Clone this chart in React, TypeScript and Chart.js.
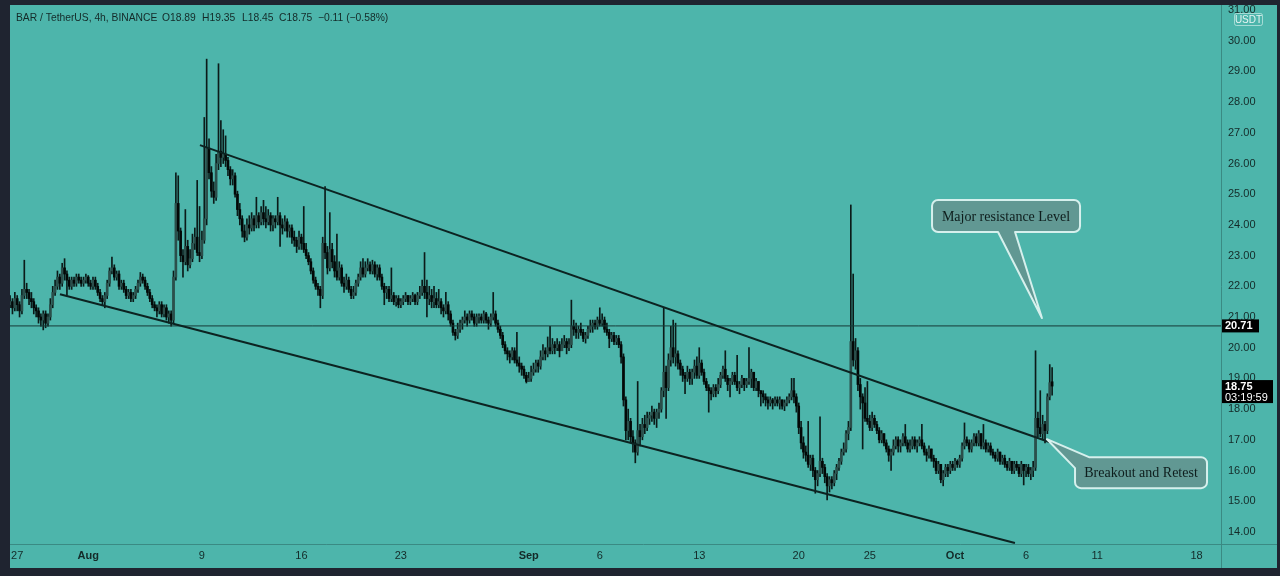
import React, { useEffect, useRef } from 'react';
import { Chart, registerables } from 'chart.js';

Chart.register(...registerables);

// ---------------- data ----------------
const SYMBOL = 'BAR / TetherUS, 4h, BINANCE';
const FIRST_BAR_OPEN_TIME = '2021-07-26T12:00:00Z';
const BAR_HOURS = 4;
const FIRST_OPEN = 21.4;
const LAST_BAR_OPEN = 18.89;

// 4h candles as [high, low, close] triples; each open is the previous close
const week01 = [
  21.7,21.3,21.5, 21.6,21.1,21.3, 21.8,21.2,21.6, 21.7,21.2,21.4, 21.5,21.0,21.2, 21.9,21.1,21.7,
  22.85,21.6,21.9, 22.1,21.6,21.8, 21.9,21.4,21.6, 21.8,21.3,21.5, 21.6,21.1,21.3, 21.4,21.0,21.2,
  21.3,20.8,21.0, 21.1,20.7,20.9, 21.2,20.58,21.1, 21.2,20.65,20.8, 21.1,20.7,21.0, 21.6,20.9,21.4,
  22.0,21.3,21.8, 22.2,21.7,22.0, 22.5,21.9,22.3, 22.4,21.9,22.1, 22.75,22.0,22.6, 22.9,22.2,22.4,
  22.5,21.7,22.2, 22.3,21.9,22.0, 22.3,21.9,22.2, 22.3,22.0,22.1, 22.4,22.0,22.3, 22.4,22.1,22.2,
  22.3,22.0,22.1, 22.3,22.0,22.2, 22.4,22.1,22.3, 22.35,22.0,22.1, 22.2,21.9,22.0, 22.3,21.9,22.2,
  22.3,21.9,22.0, 22.1,21.7,21.8, 21.9,21.5,21.6, 21.7,21.4,21.5, 21.8,21.3,21.7, 22.2,21.6,22.1,
];
const week02 = [
  22.6,22.0,22.5, 22.95,22.4,22.6, 22.7,22.2,22.3, 22.5,22.2,22.4, 22.5,21.9,22.0, 22.2,21.9,22.1,
  22.2,21.8,21.9, 22.0,21.6,21.7, 21.9,21.6,21.8, 21.9,21.5,21.6, 21.8,21.5,21.7, 22.0,21.6,21.9,
  22.2,21.8,22.1, 22.45,22.0,22.3, 22.4,22.1,22.2, 22.3,21.9,22.0, 22.1,21.7,21.8, 21.9,21.5,21.6,
  21.7,21.3,21.4, 21.5,21.2,21.3, 21.4,21.0,21.2, 21.5,21.1,21.4, 21.5,21.0,21.1, 21.4,21.0,21.3,
  21.4,20.9,21.0, 21.2,20.8,21.1, 21.2,20.7,20.9, 22.5,20.8,22.3, 25.7,22.2,24.7, 25.6,23.5,23.8,
  23.9,22.8,23.0, 23.2,22.3,22.8, 24.5,22.7,23.3, 23.5,22.5,22.7, 23.2,22.6,22.9, 23.7,22.8,23.4,
  23.9,23.2,23.6, 25.45,23.0,23.1, 24.6,22.8,23.0, 23.8,22.9,23.5, 27.5,23.4,24.2, 29.4,24.0,26.5,
];
const week03 = [
  26.8,25.5,25.7, 25.9,24.9,25.1, 25.4,24.7,24.9, 26.3,24.8,26.0, 29.25,25.8,26.4, 27.4,25.9,26.2,
  27.1,26.0,26.3, 26.9,25.9,26.1, 26.2,25.6,25.8, 25.9,25.3,25.5, 25.8,25.3,25.6, 25.7,24.9,25.0,
  25.1,24.3,24.5, 24.7,24.0,24.2, 24.3,23.6,23.8, 24.0,23.45,23.6, 24.2,23.5,24.0, 24.3,23.7,23.9,
  24.4,23.8,24.2, 24.3,23.8,24.0, 24.9,23.9,24.3, 24.4,23.9,24.1, 24.6,24.0,24.4, 24.8,24.0,24.2,
  24.6,23.9,24.1, 24.5,24.0,24.3, 24.4,23.8,24.0, 24.3,23.8,24.2, 24.3,23.9,24.1, 24.9,24.0,24.3,
  24.4,23.3,24.0, 24.2,23.7,23.9, 24.3,23.8,24.1, 24.2,23.6,23.8, 24.0,23.6,23.9, 24.0,23.4,23.6,
  23.8,23.3,23.5, 23.6,23.1,23.3, 23.8,23.2,23.6, 23.7,23.2,23.4, 24.6,23.1,23.2, 23.4,22.9,23.0,
];
const week04 = [
  23.1,22.7,22.8, 22.9,22.4,22.5, 22.6,22.1,22.2, 22.3,21.9,22.0, 22.1,21.7,21.9, 22.0,21.3,21.7,
  23.6,21.6,23.4, 25.25,22.9,23.1, 23.3,22.4,22.6, 24.4,22.5,23.2, 23.4,22.6,22.8, 23.0,22.3,22.5,
  23.7,22.2,22.3, 22.8,22.2,22.6, 22.7,22.0,22.1, 22.3,21.8,22.0, 22.4,21.9,22.2, 22.3,21.8,21.9,
  22.0,21.6,21.7, 22.0,21.6,21.8, 22.2,21.7,22.1, 22.4,22.0,22.3, 22.8,22.2,22.6, 22.9,22.3,22.4,
  22.8,22.3,22.6, 22.9,22.5,22.7, 22.8,22.4,22.5, 22.85,22.4,22.7, 22.8,22.3,22.4, 22.7,22.2,22.6,
  22.7,22.2,22.3, 22.4,21.9,22.0, 22.1,21.4,21.8, 22.0,21.6,21.9, 22.0,21.5,21.6, 22.6,21.5,21.7,
  21.8,21.4,21.5, 21.7,21.35,21.6, 21.7,21.3,21.4, 21.6,21.3,21.5, 21.7,21.4,21.6, 21.8,21.5,21.7,
];
const week05 = [
  21.7,21.4,21.5, 21.7,21.4,21.6, 21.8,21.5,21.7, 21.75,21.4,21.5, 21.8,21.4,21.7, 22.0,21.6,21.8,
  22.2,21.7,22.0, 23.1,21.6,21.8, 22.2,21.0,21.6, 22.0,21.4,21.7, 21.9,21.3,21.5, 22.0,21.3,21.6,
  21.8,21.3,21.4, 21.9,21.3,21.5, 21.6,21.1,21.3, 21.4,21.0,21.2, 21.8,21.1,21.4, 21.5,20.9,21.1,
  21.2,20.7,20.8, 20.9,20.4,20.5, 20.6,20.25,20.4, 20.8,20.3,20.6, 20.9,20.5,20.8, 21.0,20.6,20.9,
  21.2,20.8,21.0, 21.1,20.7,20.9, 21.2,20.8,21.1, 21.2,20.9,21.0, 21.1,20.7,20.8, 21.1,20.7,21.0,
  21.1,20.8,21.0, 21.1,20.8,20.9, 21.2,20.8,21.1, 21.15,20.8,20.9, 21.0,20.6,20.8, 21.1,20.7,21.0,
  21.8,20.9,21.1, 21.2,20.7,20.8, 20.9,20.5,20.6, 20.7,20.3,20.4, 20.5,20.0,20.1, 20.2,19.8,19.9,
];
const week06 = [
  20.0,19.6,19.8, 19.9,19.5,19.7, 20.0,19.6,19.9, 20.0,19.5,19.6, 20.5,19.4,19.5, 19.7,19.2,19.4,
  19.5,19.1,19.3, 19.4,19.0,19.1, 19.2,18.85,18.9, 19.2,18.9,19.0, 19.4,18.9,19.2, 19.5,19.1,19.3,
  19.6,19.2,19.5, 19.6,19.2,19.4, 19.9,19.3,19.7, 20.1,19.6,19.9, 20.0,19.6,19.8, 20.35,19.7,20.0,
  20.7,19.8,19.9, 20.3,19.8,20.1, 20.2,19.8,20.0, 20.3,19.9,20.1, 20.2,19.7,19.9, 20.3,19.9,20.1,
  20.4,20.0,20.2, 20.3,19.8,20.0, 20.3,19.9,20.1, 21.55,20.0,20.7, 20.9,20.4,20.6, 20.8,20.3,20.5,
  20.7,20.3,20.6, 20.8,20.4,20.5, 20.6,20.2,20.3, 20.5,20.15,20.4, 20.7,20.3,20.6, 20.9,20.5,20.7,
  20.9,20.5,20.8, 20.9,20.6,20.7, 21.0,20.6,20.9, 21.3,20.7,20.8, 21.1,20.7,20.9, 21.0,20.5,20.6,
];
const week07 = [
  20.8,20.4,20.5, 20.6,20.0,20.3, 20.5,20.2,20.4, 20.5,20.1,20.2, 20.4,20.1,20.3, 20.4,20.0,20.1,
  20.2,19.5,19.7, 19.8,18.1,18.3, 18.4,17.0,17.3, 18.0,17.0,17.6, 17.7,16.9,17.1, 17.3,16.6,16.9,
  17.0,16.25,16.6, 18.9,16.5,17.3, 17.5,16.8,17.1, 17.7,17.0,17.5, 17.8,17.2,17.4, 17.9,17.3,17.7,
  17.9,17.5,17.8, 18.1,17.6,17.9, 18.0,17.5,17.7, 18.0,17.4,17.9, 18.2,17.7,18.0, 18.7,17.9,18.6,
  21.3,18.4,19.2, 19.4,17.7,18.7, 19.8,18.6,19.6, 20.7,19.4,20.0, 20.9,19.5,19.7, 20.8,19.4,19.8,
  19.9,19.3,19.5, 19.6,19.1,19.3, 19.4,18.9,19.1, 19.2,18.5,19.0, 19.4,18.9,19.2, 19.3,18.8,19.0,
  19.3,18.8,19.2, 19.6,19.0,19.4, 19.7,19.0,19.1, 20.0,19.0,19.5, 19.6,19.1,19.2, 19.3,18.8,18.9,
];
const week08 = [
  19.0,18.6,18.7, 18.8,17.9,18.6, 18.7,18.3,18.5, 18.8,18.4,18.7, 18.8,18.4,18.6, 19.0,18.5,18.8,
  19.2,18.7,19.1, 19.4,19.0,19.3, 19.9,18.9,19.0, 19.1,18.6,18.8, 19.0,18.4,18.9, 19.2,18.8,19.1,
  19.2,18.8,18.9, 19.75,18.6,18.7, 18.9,18.5,18.8, 19.1,18.7,19.0, 19.0,18.6,18.8, 19.0,18.7,18.9,
  20.0,18.8,19.0, 19.3,18.7,19.2, 19.2,18.6,18.7, 19.0,18.6,18.9, 18.9,18.4,18.6, 18.6,18.1,18.5,
  18.6,18.2,18.4, 18.5,18.1,18.3, 18.4,18.0,18.2, 18.4,18.1,18.3, 18.35,18.0,18.2, 18.4,18.1,18.3,
  18.4,18.1,18.2, 18.4,18.0,18.3, 18.3,18.0,18.1, 18.3,17.95,18.2, 18.4,18.1,18.3, 18.5,18.2,18.4,
  19.0,18.3,18.6, 19.0,18.2,18.4, 18.5,17.9,18.1, 18.2,17.2,17.4, 17.6,16.7,16.9, 17.1,16.4,16.6,
];
const week09 = [
  16.8,16.3,16.5, 17.6,16.1,16.2, 16.5,16.0,16.4, 16.5,15.8,16.0, 16.1,15.26,15.7, 16.0,15.5,15.9,
  17.75,15.8,16.3, 16.4,15.9,16.1, 16.2,15.6,15.8, 15.9,15.04,15.5, 15.8,15.3,15.7, 15.8,15.4,15.6,
  16.0,15.5,15.9, 16.2,15.7,16.1, 16.4,16.0,16.3, 16.7,16.2,16.6, 16.9,16.5,16.7, 17.3,16.6,17.2,
  17.6,17.0,17.4, 24.65,17.3,20.2, 22.4,19.4,19.6, 20.3,19.3,19.9, 20.0,18.6,18.8, 19.0,18.0,18.4,
  18.5,16.7,18.2, 18.7,17.6,17.7, 18.9,17.5,17.6, 17.8,17.3,17.4, 17.9,17.3,17.7, 17.8,17.4,17.5,
  17.6,17.2,17.3, 17.4,16.9,17.0, 17.3,16.9,17.2, 17.2,16.8,16.9, 17.0,16.6,16.7, 16.8,16.3,16.5,
  16.7,16.0,16.6, 17.0,16.5,16.8, 17.1,16.7,17.0, 17.1,16.6,16.8, 17.0,16.6,16.9, 17.2,16.8,17.1,
];
const week10 = [
  17.5,16.8,16.9, 17.0,16.6,16.7, 17.0,16.6,16.8, 17.1,16.7,17.0, 17.1,16.7,16.8, 17.0,16.6,16.9,
  17.1,16.8,17.0, 17.5,16.7,16.8, 16.9,16.5,16.6, 16.7,16.3,16.5, 16.8,16.4,16.7, 16.7,16.3,16.4,
  16.5,16.1,16.3, 16.4,15.9,16.0, 16.3,15.9,16.2, 16.2,15.6,15.7, 16.0,15.5,15.9, 16.2,15.8,16.1,
  16.2,15.8,16.0, 16.3,15.9,16.2, 16.3,16.0,16.1, 16.4,16.0,16.3, 16.35,16.1,16.2, 16.5,16.1,16.4,
  16.9,16.3,16.8, 17.55,16.7,17.0, 17.1,16.8,16.9, 17.0,16.6,16.7, 17.0,16.6,16.9, 17.2,16.8,17.1,
  17.2,16.8,16.9, 17.3,16.8,17.2, 17.2,16.7,16.8, 17.5,16.7,16.9, 17.0,16.6,16.7, 16.9,16.6,16.8,
  16.9,16.5,16.6, 16.7,16.4,16.5, 16.6,16.3,16.4, 16.7,16.3,16.6, 16.6,16.2,16.3, 16.5,16.2,16.4,
];
const week11 = [
  16.5,16.1,16.2, 16.3,16.0,16.1, 16.4,16.0,16.3, 16.3,15.9,16.0, 16.3,15.9,16.2, 16.3,16.0,16.1,
  16.2,15.8,15.9, 16.3,15.8,16.2, 16.2,15.53,16.0, 16.2,15.8,16.1, 16.2,15.8,15.9, 16.1,15.7,16.0,
  16.3,15.8,16.1, 19.9,16.0,17.7, 17.9,17.1,17.4, 18.6,17.1,17.2, 17.8,17.0,17.5, 17.6,16.9,17.3,
  18.5,17.2,18.4, 19.45,18.3,18.86, 19.35,18.45,18.75,
];

const AXIS_TICK_DATES = ['2021-07-27', '2021-08-01', '2021-08-09', '2021-08-16', '2021-08-23', '2021-09-01', '2021-09-06',
  '2021-09-13', '2021-09-20', '2021-09-25', '2021-10-01', '2021-10-06', '2021-10-11', '2021-10-18'];
const AXIS_TICK_LABELS = ['27', 'Aug', '9', '16', '23', 'Sep', '6', '13', '20', '25', 'Oct', '6', '11', '18'];
const MONTH_LABELS = ['Aug', 'Sep', 'Oct'];
const PRICE_TICKS = [14, 15, 16, 17, 18, 19, 20, 21, 22, 23, 24, 25, 26, 27, 28, 29, 30, 31];
const VIEW_START = '2021-07-26T11:50:00Z';
const VIEW_END = '2021-10-19T17:15:00Z';
const PRICE_MIN = 13.606;
const PRICE_MAX = 31.163;
const RESISTANCE_LEVEL = 20.71;
const COUNTDOWN = '03:19:59';
const QUOTE = 'USDT';
const CHANNEL_UPPER: [string, number][] = [['2021-08-08T20:40:00Z', 26.6], ['2021-10-07T16:20:00Z', 16.92]];
const CHANNEL_LOWER: [string, number][] = [['2021-07-30T00:15:00Z', 21.74], ['2021-10-05T05:15:00Z', 13.64]];
const NOTE_TEXTS = ['Major resistance Level', 'Breakout and Retest'];
const NOTE_TIPS: [string, number][] = [['2021-10-07T02:50:00Z', 20.97], ['2021-10-07T11:15:00Z', 17.02]];
const NOTE_CENTERS: [string, number][] = [['2021-10-04T14:10:00Z', 24.29], ['2021-10-14T02:10:00Z', 15.93]];

// ---------------- styles ----------------
const FRAME = '#1f2430';
const PANEL = '#4db5ab';
const SEPARATOR = '#3a8a83';
const INK = '#142a28';
const WICK = '#0b1b19';
const DOWN_BODY = '#030807';
const UP_BODY = '#2b4f4b';
const LINE_COLOR = '#0c2321';
const NOTE_FILL = '#619893';
const NOTE_EDGE = '#d6f0ed';
const SANS = '"Liberation Sans", Arial, sans-serif';
const SERIF = '"Liberation Serif", "Times New Roman", serif';
const NOTE_SIZES = [[148, 32], [132, 31]];

const DAY0 = Date.parse('2021-07-27T00:00:00Z');
const toDay = (iso: string) => (Date.parse(iso) - DAY0) / 864e5;

type Candle = { x: number; o: number; h: number; l: number; c: number };

function buildCandles(): Candle[] {
  const all = [week01, week02, week03, week04, week05, week06, week07, week08, week09, week10, week11].flat();
  const out: Candle[] = [];
  const t0 = toDay(FIRST_BAR_OPEN_TIME);
  let prev = FIRST_OPEN;
  const n = all.length / 3;
  for (let i = 0; i < n; i++) {
    const h = all[3 * i], l = all[3 * i + 1], c = all[3 * i + 2];
    const o = i === n - 1 ? LAST_BAR_OPEN : prev;
    out.push({ x: t0 + (i * BAR_HOURS) / 24, o, h, l, c });
    prev = c;
  }
  return out;
}

function roundRect(ctx: CanvasRenderingContext2D, x: number, y: number, w: number, h: number, r: number) {
  ctx.beginPath();
  ctx.moveTo(x + r, y);
  ctx.lineTo(x + w - r, y);
  ctx.arcTo(x + w, y, x + w, y + r, r);
  ctx.lineTo(x + w, y + h - r);
  ctx.arcTo(x + w, y + h, x + w - r, y + h, r);
  ctx.lineTo(x + r, y + h);
  ctx.arcTo(x, y + h, x, y + h - r, r);
  ctx.lineTo(x, y + r);
  ctx.arcTo(x, y, x + r, y, r);
  ctx.closePath();
}

export default function App() {
  const ref = useRef<HTMLCanvasElement | null>(null);

  useEffect(() => {
    document.body.style.margin = '0';
    document.body.style.background = FRAME;
    const canvas = ref.current;
    if (!canvas) return;
    const candles = buildCandles();
    const last = candles[candles.length - 1];
    const prevClose = candles[candles.length - 2].c;

    const wickData = candles.map((k) => ({ x: k.x, y: [k.l, k.h] }));
    const bodyData = candles.map((k) => ({ x: k.x, y: [Math.min(k.o, k.c), Math.max(k.o, k.c)] }));
    const bodyColors = candles.map((k) => (k.c >= k.o ? UP_BODY : DOWN_BODY));

    const decor = {
      id: 'decor',
      beforeDraw(chart: any) {
        const { ctx, width, height } = chart;
        ctx.save();
        ctx.fillStyle = FRAME;
        ctx.fillRect(0, 0, width, height);
        ctx.fillStyle = PANEL;
        ctx.fillRect(10, 5, width - 13, height - 13);
        ctx.restore();
      },
      afterDraw(chart: any) {
        const { ctx, width, height, chartArea, scales } = chart;
        const xs = scales.x, ys = scales.y;
        ctx.save();
        // separators
        ctx.strokeStyle = SEPARATOR;
        ctx.lineWidth = 1;
        ctx.beginPath();
        ctx.moveTo(Math.round(chartArea.right) + 0.5, 5);
        ctx.lineTo(Math.round(chartArea.right) + 0.5, height - 8);
        ctx.moveTo(10, Math.round(chartArea.bottom) + 0.5);
        ctx.lineTo(width - 3, Math.round(chartArea.bottom) + 0.5);
        ctx.stroke();

        // header
        ctx.fillStyle = INK;
        ctx.font = `10.3px ${SANS}`;
        ctx.textBaseline = 'middle';
        ctx.textAlign = 'left';
        const chg = last.c - prevClose;
        const pct = (chg / prevClose) * 100;
        const sign = (v: number) => (v < 0 ? '\u2212' : '+') + Math.abs(v).toFixed(2);
        const parts: [string, number][] = [
          [SYMBOL, 16],
          [`O${last.o.toFixed(2)}`, 162],
          [`H${last.h.toFixed(2)}`, 202],
          [`L${last.l.toFixed(2)}`, 242],
          [`C${last.c.toFixed(2)}`, 279],
          [`${sign(chg)} (${sign(pct)}%)`, 318],
        ];
        parts.forEach(([t, x]) => ctx.fillText(t, x, 18));

        // notes
        NOTE_TEXTS.forEach((text, i) => {
          const tx = xs.getPixelForValue(toDay(NOTE_TIPS[i][0]));
          const ty = ys.getPixelForValue(NOTE_TIPS[i][1]);
          const cx = xs.getPixelForValue(toDay(NOTE_CENTERS[i][0]));
          const cy = ys.getPixelForValue(NOTE_CENTERS[i][1]);
          const [w, h] = NOTE_SIZES[i];
          const l = cx - w / 2, t = cy - h / 2, r = 6;
          ctx.beginPath();
          if (i === 0) {
            ctx.moveTo(l + r, t);
            ctx.lineTo(l + w - r, t);
            ctx.arcTo(l + w, t, l + w, t + r, r);
            ctx.lineTo(l + w, t + h - r);
            ctx.arcTo(l + w, t + h, l + w - r, t + h, r);
            ctx.lineTo(cx + 9, t + h);
            ctx.lineTo(tx, ty);
            ctx.lineTo(cx - 8, t + h);
            ctx.lineTo(l + r, t + h);
            ctx.arcTo(l, t + h, l, t + h - r, r);
            ctx.lineTo(l, t + r);
            ctx.arcTo(l, t, l + r, t, r);
          } else {
            ctx.moveTo(l + 14, t);
            ctx.lineTo(l + w - r, t);
            ctx.arcTo(l + w, t, l + w, t + r, r);
            ctx.lineTo(l + w, t + h - r);
            ctx.arcTo(l + w, t + h, l + w - r, t + h, r);
            ctx.lineTo(l + r, t + h);
            ctx.arcTo(l, t + h, l, t + h - r, r);
            ctx.lineTo(l, t + 11);
            ctx.lineTo(tx, ty);
          }
          ctx.closePath();
          ctx.fillStyle = NOTE_FILL;
          ctx.fill();
          ctx.strokeStyle = NOTE_EDGE;
          ctx.lineWidth = 2;
          ctx.lineJoin = 'round';
          ctx.stroke();
          ctx.fillStyle = '#0e1d1c';
          ctx.font = `14px ${SERIF}`;
          ctx.textAlign = 'center';
          ctx.textBaseline = 'middle';
          ctx.fillText(text, cx, cy + 1);
        });

        // price tags
        const ax = Math.round(chartArea.right) + 1;
        const ry = ys.getPixelForValue(RESISTANCE_LEVEL);
        ctx.fillStyle = '#000000';
        ctx.fillRect(ax, ry - 6.5, 37, 13);
        ctx.fillStyle = '#ffffff';
        ctx.font = `bold 11px ${SANS}`;
        ctx.textAlign = 'left';
        ctx.textBaseline = 'middle';
        ctx.fillText(RESISTANCE_LEVEL.toFixed(2), ax + 3, ry + 0.5);

        const ly = ys.getPixelForValue(last.c);
        ctx.fillStyle = '#000000';
        ctx.fillRect(ax, ly - 6, 51, 23);
        ctx.fillStyle = '#ffffff';
        ctx.font = `bold 11px ${SANS}`;
        ctx.fillText(last.c.toFixed(2), ax + 3, ly + 0.5);
        ctx.font = `11px ${SANS}`;
        ctx.fillText(COUNTDOWN, ax + 3, ly + 11.5);

        // quote currency badge
        roundRect(ctx, 1234.5, 13.5, 28, 12, 2);
        ctx.fillStyle = PANEL;
        ctx.fill();
        ctx.strokeStyle = 'rgba(225,245,242,0.6)';
        ctx.lineWidth = 1;
        ctx.stroke();
        ctx.fillStyle = '#e6f4f2';
        ctx.font = `10px ${SANS}`;
        ctx.textAlign = 'center';
        ctx.fillText(QUOTE, 1248.5, 20);
        ctx.restore();
      },
    };

    const chart = new Chart(canvas, {
      type: 'bar',
      data: {
        datasets: [
          {
            type: 'line',
            data: CHANNEL_UPPER.map(([t, p]) => ({ x: toDay(t), y: p })),
            borderColor: LINE_COLOR,
            borderWidth: 2,
            pointRadius: 0,
            order: 0,
          } as any,
          {
            type: 'line',
            data: CHANNEL_LOWER.map(([t, p]) => ({ x: toDay(t), y: p })),
            borderColor: LINE_COLOR,
            borderWidth: 2,
            pointRadius: 0,
            order: 0,
          } as any,
          {
            type: 'line',
            data: [
              { x: toDay(VIEW_START), y: RESISTANCE_LEVEL },
              { x: toDay(VIEW_END), y: RESISTANCE_LEVEL },
            ],
            borderColor: '#173a37',
            borderWidth: 1,
            pointRadius: 0,
            order: 0,
          } as any,
          {
            type: 'bar',
            data: bodyData as any,
            backgroundColor: bodyColors,
            borderWidth: 0,
            barThickness: 2,
            grouped: false,
            minBarLength: 1,
            order: 1,
          } as any,
          {
            type: 'bar',
            data: wickData as any,
            backgroundColor: WICK,
            borderWidth: 0,
            barThickness: 1,
            grouped: false,
            order: 2,
          } as any,
        ],
      },
      options: {
        animation: false,
        responsive: true,
        maintainAspectRatio: false,
        events: [],
        layout: { padding: { left: 10, top: 5, right: 3, bottom: 8 } },
        plugins: { legend: { display: false }, tooltip: { enabled: false } },
        scales: {
          x: {
            type: 'linear',
            min: toDay(VIEW_START),
            max: toDay(VIEW_END),
            offset: false,
            grid: { display: false, drawTicks: false },
            border: { display: false },
            afterBuildTicks: (s: any) => {
              s.ticks = AXIS_TICK_DATES.map((d) => ({ value: toDay(d + 'T00:00:00Z') }));
            },
            afterFit: (s: any) => {
              s.height = 24;
              s.paddingLeft = 0;
              s.paddingRight = 0;
            },
            ticks: {
              autoSkip: false,
              maxRotation: 0,
              padding: 5,
              color: INK,
              font: (c: any) => ({
                family: SANS,
                size: 11,
                weight: MONTH_LABELS.includes(AXIS_TICK_LABELS[c.index]) ? 'bold' : 'normal',
              }),
              callback: (_v: any, i: number) => AXIS_TICK_LABELS[i],
            },
          },
          y: {
            type: 'linear',
            position: 'right',
            min: PRICE_MIN,
            max: PRICE_MAX,
            grid: { display: false, drawTicks: false },
            border: { display: false },
            afterBuildTicks: (s: any) => {
              s.ticks = PRICE_TICKS.map((v) => ({ value: v }));
            },
            afterFit: (s: any) => {
              s.width = 56;
              s.paddingTop = 0;
              s.paddingBottom = 0;
            },
            ticks: {
              autoSkip: false,
              padding: 7,
              color: INK,
              font: { family: SANS, size: 11 },
              callback: (v: any) => Number(v).toFixed(2),
            },
          },
        },
      } as any,
      plugins: [decor as any],
    });
    return () => chart.destroy();
  }, []);

  return (
    <div style={{ position: 'absolute', left: 0, top: 0, width: 1280, height: 576 }}>
      <canvas ref={ref} />
    </div>
  );
}
